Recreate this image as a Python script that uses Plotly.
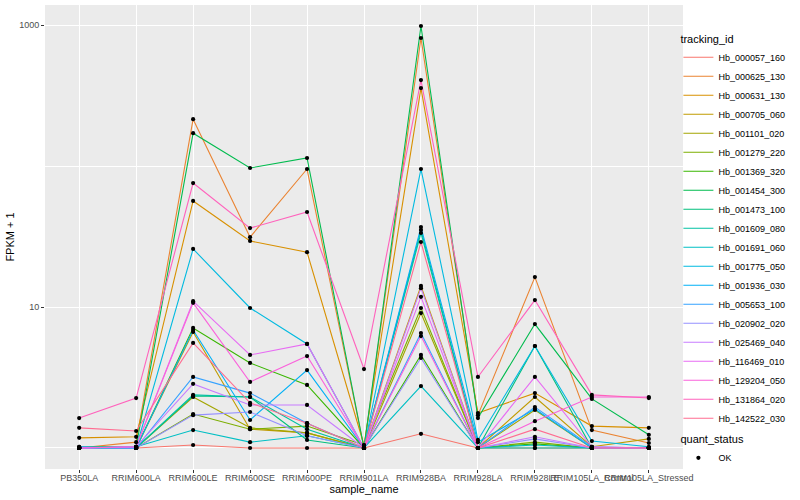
import plotly.graph_objects as go

samples = ["PB350LA", "RRIM600LA", "RRIM600LE", "RRIM600SE", "RRIM600PE", "RRIM901LA",
           "RRIM928BA", "RRIM928LA", "RRIM928LE", "RRIM105LA_Control", "RRIM105LA_Stressed"]

tracking_ids = ["Hb_000057_160", "Hb_000625_130", "Hb_000631_130", "Hb_000705_060", "Hb_001101_020",
                "Hb_001279_220", "Hb_001369_320", "Hb_001454_300", "Hb_001473_100", "Hb_001609_080",
                "Hb_001691_060", "Hb_001775_050", "Hb_001936_030", "Hb_005653_100", "Hb_020902_020",
                "Hb_025469_040", "Hb_116469_010", "Hb_129204_050", "Hb_131864_020", "Hb_142522_030"]

colors = ["#F8766D", "#EA8331", "#D89000", "#C09B00", "#A3A500", "#7CAE00", "#39B600", "#00BB4E",
          "#00BF7D", "#00C1A3", "#00BFC4", "#00BAE0", "#00B0F6", "#35A2FF", "#9590FF", "#C77CFF",
          "#E76BF3", "#FA62DB", "#FF62BC", "#FF6C91"]

# FPKM + 1 values per tracking_id, in sample order
Hb_000057_160 = [1.0, 1.0, 1.05, 1.0, 1.0, 1.0, 1.26, 1.0, 1.0, 1.0, 1.0]
Hb_000625_130 = [1.0, 1.10, 215, 31.3, 95.2, 1.0, 809, 1.71, 16.3, 1.34, 1.085]
Hb_000631_130 = [1.18, 1.20, 56.5, 29.4, 24.5, 1.05, 357, 1.77, 2.45, 1.43, 1.39]
Hb_000705_060 = [1.0, 1.0, 6.65, 1.36, 1.28, 1.0, 14.1, 1.0, 2.30, 1.02, 1.16]
Hb_001101_020 = [1.0, 1.0, 2.30, 1.39, 1.28, 1.0, 9.06, 1.0, 1.86, 1.0, 1.0]
Hb_001279_220 = [1.0, 1.0, 1.74, 1.36, 1.43, 1.05, 9.84, 1.0, 1.10, 1.0, 1.0]
Hb_001369_320 = [1.0, 1.0, 7.10, 4.01, 2.80, 1.0, 4.57, 1.0, 1.07, 1.0, 1.0]
Hb_001454_300 = [1.02, 1.02, 171, 96.8, 114, 1.0, 984, 1.63, 7.57, 2.23, 1.24]
Hb_001473_100 = [1.0, 1.0, 2.34, 2.30, 1.14, 1.0, 35.2, 1.0, 5.29, 1.0, 1.0]
Hb_001609_080 = [1.0, 1.0, 2.38, 2.30, 1.36, 1.0, 33.5, 1.0, 1.0, 1.0, 1.0]
Hb_001691_060 = [1.0, 1.02, 1.34, 1.10, 1.22, 1.0, 2.75, 1.0, 1.05, 1.0, 1.0]
Hb_001775_050 = [1.0, 1.0, 25.8, 9.84, 5.47, 1.0, 95.2, 1.14, 5.29, 1.12, 1.02]
Hb_001936_030 = [1.0, 1.0, 6.87, 1.58, 3.57, 1.0, 36.9, 1.10, 1.89, 1.0, 1.0]
Hb_005653_100 = [1.02, 1.0, 3.19, 2.45, 1.50, 1.0, 6.54, 1.0, 1.95, 1.02, 1.0]
Hb_020902_020 = [1.0, 1.0, 1.71, 1.80, 1.22, 1.0, 4.35, 1.0, 1.16, 1.0, 1.0]
Hb_025469_040 = [1.0, 1.02, 2.85, 2.02, 2.02, 1.0, 13.6, 1.0, 1.20, 1.0, 1.0]
Hb_116469_010 = [1.0, 1.02, 11.0, 4.57, 5.47, 1.0, 11.8, 1.0, 3.19, 1.02, 1.0]
Hb_129204_050 = [1.0, 1.02, 10.7, 2.94, 4.49, 1.0, 6.22, 1.0, 1.55, 2.30, 2.30]
Hb_131864_020 = [1.63, 2.26, 75.7, 36.3, 47.2, 3.63, 407, 3.19, 11.2, 2.38, 2.26]
Hb_142522_030 = [1.39, 1.32, 5.56, 2.09, 1.50, 1.0, 28.9, 1.0, 1.36, 1.0, 1.0]

series = [Hb_000057_160, Hb_000625_130, Hb_000631_130, Hb_000705_060, Hb_001101_020,
          Hb_001279_220, Hb_001369_320, Hb_001454_300, Hb_001473_100, Hb_001609_080,
          Hb_001691_060, Hb_001775_050, Hb_001936_030, Hb_005653_100, Hb_020902_020,
          Hb_025469_040, Hb_116469_010, Hb_129204_050, Hb_131864_020, Hb_142522_030]

FONT = "Liberation Sans, Arial, sans-serif"

fig = go.Figure()
for name, vals, col in zip(tracking_ids, series, colors):
    fig.add_trace(go.Scatter(x=samples, y=vals, mode="lines", name=name,
                             line=dict(color=col, width=1.1), legend="legend"))

all_x, all_y = [], []
for vals in series:
    all_x += samples
    all_y += vals
fig.add_trace(go.Scatter(x=all_x, y=all_y, mode="markers", name="OK",
                         marker=dict(color="black", size=4.2, symbol="circle"),
                         legend="legend2"))

fig.update_layout(
    width=800, height=500,
    margin=dict(l=45, r=117, t=5, b=31, autoexpand=False),
    paper_bgcolor="white", plot_bgcolor="#EBEBEB",
    font=dict(family=FONT, size=9, color="black"),
    showlegend=True,
    legend=dict(title=dict(text="tracking_id", font=dict(size=11)),
                xref="container", yref="container", x=0.848, y=0.943,
                xanchor="left", yanchor="top", font=dict(size=9),
                tracegroupgap=0, bgcolor="rgba(0,0,0,0)", itemwidth=30,
                maxheight=470),
    legend2=dict(title=dict(text="quant_status", font=dict(size=11)),
                 xref="container", yref="container", x=0.848, y=0.142,
                 xanchor="left", yanchor="top", font=dict(size=9),
                 bgcolor="rgba(0,0,0,0)", itemwidth=30),
)

fig.update_xaxes(type="category", categoryorder="array", categoryarray=samples,
                 range=[-0.6, 10.6], tickangle=0, showgrid=True, gridcolor="white",
                 gridwidth=1.1, zeroline=False, showline=False, automargin=False,
                 ticks="outside", ticklen=3, tickcolor="#333333", tickwidth=1,
                 ticklabelstandoff=-3,
                 tickfont=dict(size=9, color="#4D4D4D"),
                 title=dict(text="sample_name", font=dict(size=11), standoff=0))

fig.update_yaxes(type="log", range=[-0.149, 3.142], automargin=False,
                 tickmode="array", tickvals=[10, 1000], ticktext=["10", "1000"],
                 showgrid=True, gridcolor="white", gridwidth=1.1, zeroline=False,
                 showline=False, ticks="outside", ticklen=3, tickcolor="#333333",
                 ticklabelstandoff=0,
                 tickfont=dict(size=9, color="#4D4D4D"),
                 minor=dict(tickmode="array", tickvals=[1, 100], showgrid=True,
                            gridcolor="white", gridwidth=0.55, ticks=""),
                 title=dict(text="FPKM + 1", font=dict(size=11), standoff=2))

fig.write_html("out.html", config={"displayModeBar": False},
               post_script="document.body.style.margin='0';")
